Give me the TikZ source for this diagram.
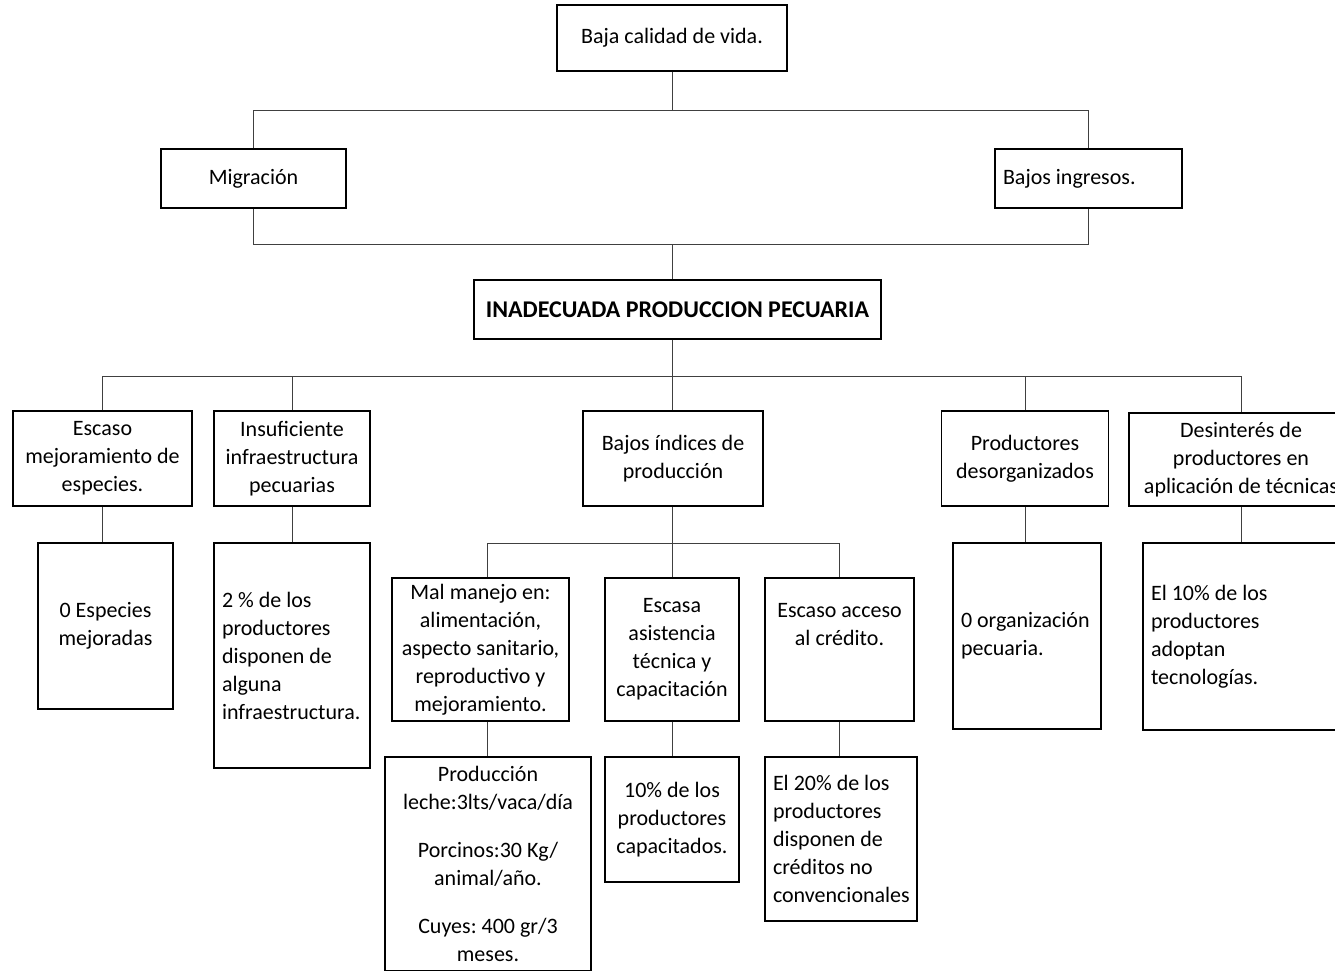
\documentclass[tikz,border=0pt]{standalone}
\usepackage{fontspec}
\setmainfont{Carlito}
\newcommand\fs{\fontsize{22}{28}\selectfont\frenchspacing}
\setlength{\parindent}{0pt}
\begin{document}
\begin{tikzpicture}[x=1pt,y=-1pt,
  box/.style={draw=black, line width=1.2pt, inner sep=0pt, align=flush center, font=\fs},
  lbox/.style={draw=black, line width=1.2pt, inner ysep=0pt, inner xsep=8pt, align=flush left, font=\fs},
  txt/.style={inner sep=0pt, align=flush center, font=\fs},
  conn/.style={draw=black!75, line width=0.9pt}]
\useasboundingbox (0,0) rectangle (1335,970);
% level 0
\node[box, minimum width=230, minimum height=66] (top) at (672,38) {Baja calidad de vida.};
% level 1
\node[box, minimum width=185, minimum height=59] (mig) at (253.5,178.5) {Migración};
\node[lbox, text width=171, minimum height=59] (ing) at (1088.5,178.5) {Bajos ingresos.};
% core
\node[box, minimum width=407, minimum height=59, font=\fontsize{24}{28}\selectfont\bfseries] (ina) at (677.5,309.5) {INADECUADA PRODUCCION PECUARIA};
% level 2
\node[box, minimum width=179, minimum height=95] (esc) at (102.5,458.5) {Escaso\\mejoramiento de\\especies.};
\node[box, minimum width=156, minimum height=95] (ins) at (292,458.5) {Insuficiente\\infraestructura\\pecuarias};
\node[box, minimum width=180, minimum height=95] (baj) at (673,458.5) {Bajos índices de\\producción};
\node[box, minimum width=167, minimum height=95] (pro) at (1025,458.5) {Productores\\desorganizados};
\node[box, minimum width=224, minimum height=93] (des) at (1241,459.5) {Desinterés de\\productores en\\aplicación de técnicas};
% level 3
\node[box, minimum width=135, minimum height=166] (esp) at (105.5,626) {0 Especies\\mejoradas};
\node[lbox, text width=140, minimum height=225] (inf) at (292,655.5) {2 \% de los\\productores\\disponen de\\alguna\\infraestructura.};
\node[box, minimum width=177, minimum height=143] (mal) at (480.5,649.5) {Mal manejo en:\\alimentación,\\aspecto sanitario,\\reproductivo y\\mejoramiento.};
\node[box, minimum width=134, minimum height=143] (asi) at (672,649.5) {Escasa\\asistencia\\técnica y\\capacitación};
\node[box, minimum width=149, minimum height=143] (acc) at (839.5,649.5) {};
\node[txt] (acct) at (839.5,625) {Escaso acceso\\al crédito.};
\node[lbox, text width=132, minimum height=186] (org) at (1027,636) {0 organización\\pecuaria.};
\node[lbox, text width=186, minimum height=187] (ado) at (1244,636.5) {El 10\% de los\\productores\\adoptan\\tecnologías.};
% level 4
\node[box, minimum width=206, minimum height=214] (prd) at (488,864) {Producción\\leche:3lts/vaca/día\\[20pt]Porcinos:30 Kg/\\animal/año.\\[20pt]Cuyes: 400 gr/3\\meses.};
\node[box, minimum width=134, minimum height=125] (cap) at (672,819.5) {10\% de los\\productores\\capacitados.};
\node[lbox, text width=136, minimum height=164] (cre) at (841,839) {El 20\% de los\\productores\\disponen de\\créditos no\\convencionales};
% bus coordinates
\coordinate (b1) at (672,110);
\coordinate (b2) at (672,244);
\coordinate (b3) at (672,376);
\coordinate (b4) at (672,543);
\coordinate (b4w) at (487,543);
\coordinate (b4e) at (839,543);
% connectors
\draw[conn] (top.south) -- (b1);
\draw[conn] (mig.north) -- (mig.north |- b1) -- (ing.north |- b1) -- (ing.north);
\draw[conn] (mig.south) -- (mig.south |- b2) -- (ing.south |- b2) -- (ing.south);
\draw[conn] (b2) -- (b2 |- ina.north);
\draw[conn] (b3 |- ina.south) -- (b3);
\draw[conn] (esc.north) -- (esc.north |- b3) -- (des.north |- b3) -- (des.north);
\draw[conn] (ins.north |- b3) -- (ins.north);
\draw[conn] (b3) -- (b3 |- baj.north);
\draw[conn] (pro.north |- b3) -- (pro.north);
\draw[conn] (esc.south) -- (esc.south |- esp.north);
\draw[conn] (ins.south) -- (inf.north);
\draw[conn] (pro.south) -- (pro.south |- org.north);
\draw[conn] (des.south) -- (des.south |- ado.north);
\draw[conn] (b4 |- baj.south) -- (b4);
\draw[conn] (b4w |- mal.north) -- (b4w) -- (b4e) -- (b4e |- acc.north);
\draw[conn] (b4) -- (b4 |- asi.north);
\draw[conn] (b4w |- mal.south) -- (b4w |- prd.north);
\draw[conn] (asi.south) -- (cap.north);
\draw[conn] (b4e |- acc.south) -- (b4e |- cre.north);
\end{tikzpicture}
\end{document}
